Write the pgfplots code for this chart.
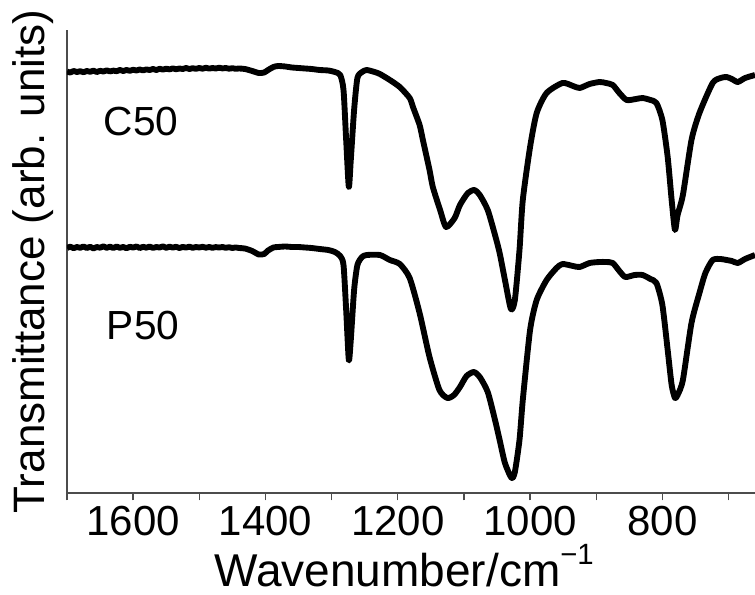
\documentclass[border=0pt]{standalone}
\usepackage{pgfplots}
\pgfplotsset{compat=1.18}
\usepackage{fontspec}
\setmainfont{Liberation Sans}
\newcommand{\tl}[1]{\mbox{\fontsize{31.5}{36}\selectfont #1}}

\pgfplotstableread{
x y
1700 421.5
1695 420.5
1690 422
1685 421
1680 421.8
1675 420.8
1670 422
1665 421.2
1660 422.3
1655 421
1650 422.2
1645 421.5
1640 422.6
1635 421.6
1630 422.4
1625 421.8
1620 423
1615 422
1610 423
1605 422.2
1600 423.2
1595 422.5
1590 423.5
1585 422.6
1580 423.6
1575 423
1570 424
1565 423
1560 424.2
1555 423.4
1550 424.3
1545 423.6
1540 424.6
1535 423.8
1530 424.5
1525 424
1520 425
1515 424
1510 424.8
1505 424.2
1500 425
1495 424.3
1490 425.2
1485 424.4
1480 425
1475 424.5
1470 425.3
1465 424.6
1460 425
1455 424.3
1450 424.8
1445 424.2
1440 424.5
1431 424
1420 422
1410 420
1402 420.5
1396 423
1388 426
1381 427
1370 426.5
1360 425.5
1350 425
1340 424.5
1330 424
1318 423
1305 422.5
1295 421
1287 418
1282 403
1278 353
1274 306
1271 333
1266 383
1261 415
1254 421
1247 423
1235 421
1227 419
1212 413
1197 406
1182 395
1177 386
1167 368
1162 353
1152 323
1147 306
1136 283
1127 266
1114 275
1106 288
1094 300
1084 303
1076 298
1064 283
1053 258
1046 240
1038 213
1029 184
1023 193
1016 243
1011 293
1000 346
990 380
975 400
951 410
935 407
925 405
910 409
895 411
885 410
875 408
865 400
854 393
840 394
830 395
818 393
809 390
800 373
792 336
786 293
781 263
777 278
769 298
756 353
744 380
724 410
712 415
703 416
695 414
686 411
675 415
660 418
}\cfifty

\pgfplotstableread{
x y
1700 245
1695 246.3
1690 244.8
1685 246
1680 245.2
1675 246.5
1670 245
1665 246.2
1660 244.6
1655 246
1650 245.3
1645 246.6
1640 245.2
1635 246.3
1630 245
1625 246.4
1620 245.2
1615 246
1610 244.8
1605 246.2
1600 245.4
1595 246.5
1590 245
1585 246.2
1580 245.3
1575 246.4
1570 245.1
1565 246
1560 245.5
1555 246.6
1550 245.2
1545 246.3
1540 245.4
1535 246.2
1530 245
1525 246.1
1520 245.4
1515 246.3
1510 245.2
1505 246
1500 245.5
1495 246.2
1490 245.3
1485 246
1480 245.2
1475 245.9
1470 245.5
1465 246
1460 245.2
1455 245.8
1450 245
1445 245.6
1440 245
1431 244.5
1420 242
1410 238.5
1402 239
1396 242.5
1388 245.5
1381 246
1370 246.5
1360 246
1350 246
1340 245.5
1330 245
1318 244
1305 243
1295 241
1287 237
1282 228
1278 183
1274 133
1271 153
1266 203
1261 228
1254 236
1247 238
1227 238
1212 233
1197 229
1182 215
1167 180
1152 136
1137 103
1125 95
1115 98
1106 106
1096 117
1085 121
1076 116
1064 101
1053 73
1046 53
1038 30
1028 15
1023 21
1016 53
1011 93
1000 163
990 193
975 213
960 225
951 229
935 227
925 226
910 230
895 231
885 231
875 230
865 222
856 216
842 218
830 218
818 214
809 210
800 188
792 143
786 108
781 95
777 98
769 113
756 170
744 200
735 220
724 233
712 234
703 233
695 232
686 230
675 234
660 238
}\pfifty

\begin{document}
\begin{tikzpicture}
\begin{axis}[
  scale only axis,
  width=516pt, height=347.25pt,
  x dir=reverse,
  xmin=660, xmax=1700,
  ymin=0, ymax=463,
  axis x line=bottom, axis y line=left,
  axis line style={-, line width=1pt, black!70},
  ytick=\empty,
  xtick={800,1000,1200,1400,1600},
  xticklabels={\tl{800},\tl{1000},\tl{1200},\tl{1400},\tl{1600}},
  minor xtick={700,900,1100,1300,1500,1700},
  tick align=outside,
  major tick length=5.5pt, minor tick length=5.5pt,
  every tick/.style={line width=1pt, black!70},
  xticklabel style={font=\fontsize{31.5}{36}\selectfont, anchor=north, inner sep=0pt, yshift=-4pt},
  xlabel={Wavenumber/cm\raisebox{16.5pt}{\fontsize{22}{26}\selectfont −1}},
  xlabel style={font=\fontsize{34.5}{40}\selectfont, at={(axis description cs:0.49,-0.202)}, anchor=base},
  ylabel={Transmittance (arb. units)},
  ylabel style={font=\fontsize{33}{40}\selectfont, at={(axis description cs:-0.019,0.5)}, rotate=0, anchor=south, inner sep=0pt},
  clip=true,
]
\addplot[black, line width=4.4pt, line join=round, smooth, tension=0.4] table[x=x,y=y] {\cfifty};
\addplot[black, line width=4.4pt, line join=round, smooth, tension=0.4] table[x=x,y=y] {\pfifty};
\node[font=\fontsize{30.5}{36}\selectfont] at (axis cs:1588,372) {C50};
\node[font=\fontsize{30.5}{36}\selectfont] at (axis cs:1585,168) {P50};
\coordinate (bl) at (rel axis cs:0,0);
\coordinate (tr) at (rel axis cs:1,1);
\end{axis}
\pgfresetboundingbox
\path[use as bounding box] ([xshift=-50.25pt,yshift=-75.75pt]bl) rectangle ([yshift=22.5pt]tr);
\end{tikzpicture}
\end{document}
